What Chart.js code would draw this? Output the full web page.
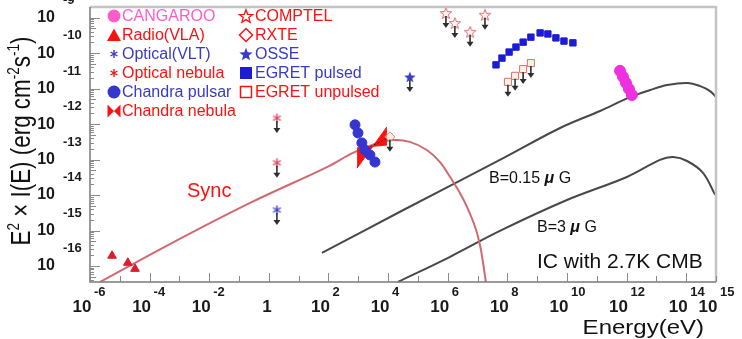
<!DOCTYPE html>
<html>
<head>
<meta charset="utf-8">
<script src="https://cdn.jsdelivr.net/npm/chart.js@4.4.1/dist/chart.umd.min.js"></script>
<style>
  html, body { margin: 0; padding: 0; background: #fff; }
  #wrap { width: 742px; height: 339px; position: relative; }
</style>
</head>
<body>
<div id="wrap"><canvas id="sed"></canvas></div>
<script>
// ── Data: [log10 E (eV), log10 E^2 I(E) (erg cm^-2 s^-1)] ─────────────
const CANGAROO       = [[11.78, -10.50], [11.88, -10.67], [11.98, -10.84], [12.08, -11.01], [12.18, -11.18]];
const RADIO_VLA      = [[-5.26, -15.71], [-4.73, -15.91], [-4.49, -16.08]];
const OPTICAL_VLT    = [[0.27, -14.42]];
const OPTICAL_NEBULA = [[0.27, -11.83], [0.27, -13.09]];
const CHANDRA_PSR    = [[2.89, -12.02], [2.99, -12.25], [3.12, -12.53], [3.22, -12.73], [3.39, -12.87], [3.56, -13.07]];
const COMPTEL        = [[5.94, -8.87], [6.24, -9.15], [6.75, -9.40], [7.25, -8.92]];
const RXTE           = [[4.06, -12.36]];
const OSSE           = [[4.73, -10.67]];
const EGRET_PULSED   = [[7.62, -10.33], [7.82, -10.14], [8.06, -9.97], [8.29, -9.83], [8.53, -9.69], [8.79, -9.55],
                        [9.10, -9.43], [9.36, -9.46], [9.63, -9.57], [9.90, -9.66], [10.20, -9.71]];
const EGRET_UNPULSED = [[8.02, -10.81], [8.26, -10.64], [8.53, -10.45], [8.79, -10.28]];

// Chandra nebula butterfly: two limiting power laws
const NEB_SHALLOW = [[2.96, -12.67], [3.96, -12.59]];
const NEB_STEEP   = [[2.96, -13.24], [3.96, -12.08]];
const NEB_FIT     = [[3.16, -12.73], [3.93, -12.42]];

// Model curves
const SYNC   = [[-5.66, -16.45], [-3.32, -15.38], [-0.63, -14.22], [1.95, -13.21], [2.82, -12.81], [3.56, -12.56],
                [4.16, -12.45], [4.73, -12.50], [5.30, -12.73], [5.74, -13.07], [6.08, -13.49], [6.41, -13.94],
                [6.65, -14.34], [6.92, -14.90], [7.08, -15.40], [7.18, -15.88], [7.28, -16.45]];
const IC_B015 = [[1.78, -15.63], [4.40, -14.47], [7.75, -13.01], [9.77, -12.11], [11.11, -11.63], [12.11, -11.24],
                 [12.79, -11.04], [13.36, -10.90], [14.03, -10.84], [14.47, -10.93], [14.80, -11.07], [15.00, -11.24]];
const IC_B3   = [[4.33, -16.45], [6.08, -15.74], [7.75, -15.01], [10.00, -14.14], [12.01, -13.49], [13.12, -13.01],
                 [13.56, -12.93], [14.03, -13.04], [14.57, -13.38], [14.97, -13.99]];

// Axes
const X_MIN_EXP = -6, X_MAX_EXP = 15;
const Y_MIN_EXP = -16.45, Y_MAX_EXP = -8.70;
const X_TICK_EXPS = [-6, -4, -2, 0, 2, 4, 6, 8, 10, 12, 14, 15];
const Y_TICK_EXPS = [-9, -10, -11, -12, -13, -14, -15, -16];

const LEGEND_LEFT = [
  ['CANGAROO', 'circlePink'], ['Radio(VLA)', 'triangle'], ['Optical(VLT)', 'asteriskBlue'],
  ['Optical nebula', 'asteriskRed'], ['Chandra pulsar', 'circleBlue'], ['Chandra nebula', 'bowtie'],
];
const LEGEND_RIGHT = [
  ['COMPTEL', 'openStar'], ['RXTE', 'openDiamond'], ['OSSE', 'star'],
  ['EGRET pulsed', 'square'], ['EGRET unpulsed', 'openSquare'],
];

// ── Colours ─────────────────────────────────────────────
const PINK = '#ff5ccb', MAGENTA = '#ee30e0', RED = '#ff1010', BLUE = '#3a3ac8';
const SQ_BLUE = '#1c1cd6', PSR_BLUE = '#3535d0', SYNC_RED = '#cf6a70', IC_GREY = '#484848';
const FONT = '"Liberation Sans", Arial, sans-serif';

const pts = arr => arr.map(([e, f]) => ({ x: 10 ** e, y: 10 ** f }));

// custom marker images
function starImage(r, fill, stroke, lw) {
  const s = Math.ceil(2 * r + 4);
  const c = document.createElement('canvas');
  c.width = c.height = s;
  const g = c.getContext('2d');
  g.translate(s / 2, s / 2 + r * 0.1);
  g.beginPath();
  for (let i = 0; i < 10; i++) {
    const rr = i % 2 ? r * 0.42 : r;
    const a = -Math.PI / 2 + i * Math.PI / 5;
    g.lineTo(rr * Math.cos(a), rr * Math.sin(a));
  }
  g.closePath();
  if (fill) { g.fillStyle = fill; g.fill(); }
  if (stroke) { g.strokeStyle = stroke; g.lineWidth = lw; g.stroke(); }
  return c;
}
function asteriskImage(r, color) {
  const s = Math.ceil(2 * r + 4);
  const c = document.createElement('canvas');
  c.width = c.height = s;
  const g = c.getContext('2d');
  g.translate(s / 2, s / 2);
  g.strokeStyle = color; g.lineWidth = 1.4;
  for (let i = 0; i < 3; i++) {
    const a = Math.PI / 2 + i * Math.PI / 3;
    g.beginPath();
    g.moveTo(-r * Math.cos(a), -r * Math.sin(a));
    g.lineTo(r * Math.cos(a), r * Math.sin(a));
    g.stroke();
  }
  return c;
}

const IMG = {
  openStarData: starImage(6, 'rgba(255,235,235,0.6)', '#d87070', 1),
  starData:     starImage(6, BLUE, null, 0),
  astBlueData:  asteriskImage(4.5, BLUE),
  astRedData:   asteriskImage(4.5, '#e04060'),
  openStarLeg:  starImage(7, null, RED, 1.3),
  starLeg:      starImage(7, BLUE, null, 0),
  astBlueLeg:   asteriskImage(4, BLUE),
  astRedLeg:    asteriskImage(4, RED),
};

function markers(data, style, color, radius, extra = {}) {
  return Object.assign({
    data: pts(data), showLine: false, pointStyle: style, pointRadius: radius,
    pointBackgroundColor: color, pointBorderColor: color, pointBorderWidth: 1,
  }, extra);
}
function curve(data, color, width, extra = {}) {
  return Object.assign({
    data: pts(data), showLine: true, borderColor: color, borderWidth: width,
    pointRadius: 0, fill: false, tension: 0.35,
  }, extra);
}

const datasets = [
  markers(CHANDRA_PSR, 'circle', PSR_BLUE, 5),
  markers(CANGAROO, 'circle', MAGENTA, 5.5),
  markers(EGRET_PULSED, 'rect', SQ_BLUE, 4.5),
  markers(EGRET_UNPULSED, 'rect', '#d87070', 5, { pointBackgroundColor: 'rgba(255,230,200,0.5)', upperLimit: true }),
  markers(COMPTEL, IMG.openStarData, '#d87070', 6, { upperLimit: true }),
  markers(RXTE, 'rectRot', '#c89070', 5, { pointBackgroundColor: 'rgba(255,220,200,0.6)', upperLimit: true }),
  markers(OSSE, IMG.starData, BLUE, 6, { upperLimit: true }),
  markers(OPTICAL_NEBULA, IMG.astRedData, '#e04060', 5, { upperLimit: true }),
  markers(OPTICAL_VLT, IMG.astBlueData, BLUE, 5, { upperLimit: true }),
  markers(RADIO_VLA, 'triangle', '#e01a30', 5),
  curve(NEB_FIT, '#222', 1, { borderDash: [2, 2], tension: 0 }),
  curve(NEB_SHALLOW, RED, 1, { tension: 0 }),
  curve(NEB_STEEP, RED, 1, { tension: 0, fill: '-1', backgroundColor: RED }),
  curve(SYNC, SYNC_RED, 2),
  curve(IC_B015, IC_GREY, 2),
  curve(IC_B3, IC_GREY, 2),
];

// ── Legend marker drawing ───────────────────────────────
function legendMarker(ctx, kind, x, y) {
  ctx.save();
  switch (kind) {
    case 'circlePink':
    case 'circleBlue':
      ctx.fillStyle = kind === 'circlePink' ? PINK : PSR_BLUE;
      ctx.beginPath(); ctx.arc(x, y, 6.5, 0, Math.PI * 2); ctx.fill();
      break;
    case 'triangle':
      ctx.fillStyle = RED;
      ctx.beginPath(); ctx.moveTo(x, y - 6.5); ctx.lineTo(x + 7, y + 6); ctx.lineTo(x - 7, y + 6); ctx.closePath(); ctx.fill();
      break;
    case 'asteriskBlue':
      ctx.drawImage(IMG.astBlueLeg, x - IMG.astBlueLeg.width / 2, y - IMG.astBlueLeg.height / 2);
      break;
    case 'asteriskRed':
      ctx.drawImage(IMG.astRedLeg, x - IMG.astRedLeg.width / 2, y - IMG.astRedLeg.height / 2);
      break;
    case 'bowtie':
      ctx.fillStyle = RED;
      ctx.beginPath();
      ctx.moveTo(x - 6.5, y - 6.5); ctx.lineTo(x + 6.5, y + 6.5); ctx.lineTo(x + 6.5, y - 6.5);
      ctx.lineTo(x - 6.5, y + 6.5); ctx.closePath(); ctx.fill();
      break;
    case 'openStar':
      ctx.drawImage(IMG.openStarLeg, x - IMG.openStarLeg.width / 2, y - IMG.openStarLeg.height / 2);
      break;
    case 'star':
      ctx.drawImage(IMG.starLeg, x - IMG.starLeg.width / 2, y - IMG.starLeg.height / 2);
      break;
    case 'openDiamond':
      ctx.strokeStyle = RED; ctx.lineWidth = 1.5;
      ctx.beginPath(); ctx.moveTo(x, y - 6.5); ctx.lineTo(x + 6.5, y); ctx.lineTo(x, y + 6.5); ctx.lineTo(x - 6.5, y); ctx.closePath(); ctx.stroke();
      break;
    case 'square':
      ctx.fillStyle = SQ_BLUE; ctx.fillRect(x - 6, y - 6, 12, 12);
      break;
    case 'openSquare':
      ctx.strokeStyle = RED; ctx.lineWidth = 1.5; ctx.strokeRect(x - 5.5, y - 5.5, 11, 11);
      break;
  }
  ctx.restore();
}

const LEGEND_TEXT_COLOR = {
  'CANGAROO': PINK, 'Radio(VLA)': RED, 'Optical(VLT)': BLUE, 'Optical nebula': RED,
  'Chandra pulsar': BLUE, 'Chandra nebula': RED, 'COMPTEL': RED, 'RXTE': RED,
  'OSSE': BLUE, 'EGRET pulsed': BLUE, 'EGRET unpulsed': RED,
};

// text pieces: [string, isSuperscript]
function drawPieces(ctx, pieces, x, y, size, supSize, raise, color, weight = '') {
  ctx.fillStyle = color;
  ctx.textAlign = 'left';
  ctx.textBaseline = 'alphabetic';
  let cx = x;
  for (const [s, sup] of pieces) {
    ctx.font = `${weight} ${sup ? supSize : size}px ${FONT}`;
    ctx.fillText(s, cx, sup ? y - raise : y);
    cx += ctx.measureText(s).width;
  }
  return cx - x;
}
function piecesWidth(ctx, pieces, size, supSize, weight = '') {
  let w = 0;
  for (const [s, sup] of pieces) {
    ctx.font = `${weight} ${sup ? supSize : size}px ${FONT}`;
    w += ctx.measureText(s).width;
  }
  return w;
}

// ── Frame, ticks, labels, legend ────────────────────────
const framePlugin = {
  id: 'frame',
  afterDraw(chart) {
    const { ctx, chartArea: a, scales: { x, y } } = chart;
    ctx.save();

    // box
    ctx.strokeStyle = '#c4c4c4'; ctx.lineWidth = 2.5;
    ctx.beginPath(); ctx.moveTo(a.left, a.top); ctx.lineTo(a.right, a.top); ctx.lineTo(a.right, a.bottom); ctx.stroke();
    ctx.strokeStyle = '#7a7a7a'; ctx.lineWidth = 1.5;
    ctx.beginPath(); ctx.moveTo(a.left, a.top); ctx.lineTo(a.left, a.bottom); ctx.lineTo(a.right, a.bottom); ctx.stroke();

    // x ticks (inside)
    ctx.strokeStyle = '#8a8a8a'; ctx.lineWidth = 1;
    for (let e = X_MIN_EXP; e <= X_MAX_EXP; e++) {
      const px = Math.round(x.getPixelForValue(10 ** e)) + 0.5;
      const len = e % 2 === 0 ? 9 : 6;
      ctx.beginPath(); ctx.moveTo(px, a.bottom); ctx.lineTo(px, a.bottom - len); ctx.stroke();
    }
    // y ticks (inside), decades + minor
    for (let e = -17; e <= -8; e++) {
      for (let m = 1; m <= 9; m++) {
        const v = m * 10 ** e;
        if (v < y.min || v > y.max) continue;
        const py = Math.round(y.getPixelForValue(v)) + 0.5;
        const len = m === 1 ? 10 : (m === 5 ? 6 : 4);
        ctx.beginPath(); ctx.moveTo(a.left, py); ctx.lineTo(a.left + len, py); ctx.stroke();
      }
    }

    // x tick labels
    ctx.fillStyle = '#1a1a1a';
    for (const e of X_TICK_EXPS) {
      const px = x.getPixelForValue(10 ** e);
      ctx.textBaseline = 'alphabetic';
      if (e === 0) {
        ctx.font = `bold 17px ${FONT}`; ctx.textAlign = 'center';
        ctx.fillText('1', px - 2, 312);
        continue;
      }
      ctx.font = `bold 17px ${FONT}`; ctx.textAlign = 'center';
      ctx.fillText('10', px - 8, 312);
      ctx.font = `bold 13px ${FONT}`; ctx.textAlign = 'left';
      ctx.fillText(String(e), px + 4, 296);
    }

    // y tick labels
    for (const e of Y_TICK_EXPS) {
      const py = y.getPixelForValue(10 ** e);
      ctx.font = `bold 16px ${FONT}`; ctx.textAlign = 'right'; ctx.textBaseline = 'middle';
      ctx.fillText('10', 55, py);
      ctx.font = `bold 13px ${FONT}`; ctx.textAlign = 'left';
      ctx.fillText(String(e), 63, py - 17.5);
    }

    // axis titles
    ctx.save();
    ctx.translate(742 - 38, 334);
    ctx.scale(1, 0.85);
    ctx.font = `24px ${FONT}`; ctx.fillStyle = '#111'; ctx.textAlign = 'right'; ctx.textBaseline = 'alphabetic';
    ctx.fillText('Energy(eV)', 0, 0);
    ctx.restore();

    const yTitle = [['E', 0], ['2', 1], [' \u00d7 I(E) (erg cm', 0], ['-2', 1], ['s', 0], ['-1', 1], [')', 0]];
    ctx.save();
    ctx.translate(30, 141);
    ctx.rotate(-Math.PI / 2);
    ctx.scale(0.8, 1);
    const tw = piecesWidth(ctx, yTitle, 28, 17);
    drawPieces(ctx, yTitle, -tw / 2, 0, 28, 17, 11, '#111');
    ctx.restore();

    // annotations
    ctx.font = `20px ${FONT}`; ctx.fillStyle = RED; ctx.textAlign = 'left'; ctx.textBaseline = 'alphabetic';
    ctx.fillText('Sync', 187, 197);
    ctx.fillStyle = '#111';
    ctx.font = `21px ${FONT}`;
    ctx.fillText('IC with 2.7K CMB', 537, 268);
    drawBLabel(ctx, 'B=0.15 ', 489, 183);
    drawBLabel(ctx, 'B=3 ', 537, 232);

    // legend
    ctx.font = `16px ${FONT}`; ctx.textBaseline = 'middle'; ctx.textAlign = 'left';
    LEGEND_LEFT.forEach(([label, kind], i) => {
      const ly = 16 + i * 19;
      legendMarker(ctx, kind, 114, ly);
      ctx.font = `16px ${FONT}`; ctx.textBaseline = 'middle'; ctx.textAlign = 'left';
      ctx.fillStyle = LEGEND_TEXT_COLOR[label];
      ctx.fillText(label, 122, ly + 1);
    });
    LEGEND_RIGHT.forEach(([label, kind], i) => {
      const ly = 16 + i * 19;
      legendMarker(ctx, kind, 246, ly);
      ctx.font = `16px ${FONT}`; ctx.textBaseline = 'middle'; ctx.textAlign = 'left';
      ctx.fillStyle = LEGEND_TEXT_COLOR[label];
      ctx.fillText(label, 255, ly + 1);
    });

    ctx.restore();
  },
};

function drawBLabel(ctx, head, x, y) {
  ctx.save();
  ctx.fillStyle = '#111'; ctx.textAlign = 'left'; ctx.textBaseline = 'alphabetic';
  ctx.font = `16px ${FONT}`;
  ctx.fillText(head, x, y);
  let cx = x + ctx.measureText(head).width;
  ctx.font = `italic bold 16px ${FONT}`;
  ctx.fillText('\u03bc', cx, y);
  cx += ctx.measureText('\u03bc').width;
  ctx.font = `16px ${FONT}`;
  ctx.fillText(' G', cx, y);
  ctx.restore();
}

// ── Upper-limit arrows below flagged markers ────────────
const arrowPlugin = {
  id: 'upperLimits',
  afterDatasetsDraw(chart) {
    const ctx = chart.ctx;
    ctx.save();
    ctx.strokeStyle = '#2e2e2e'; ctx.fillStyle = '#2e2e2e'; ctx.lineWidth = 1.6;
    chart.data.datasets.forEach((ds, i) => {
      if (!ds.upperLimit) return;
      chart.getDatasetMeta(i).data.forEach(pt => {
        const x = pt.x, y0 = pt.y + 3, y1 = pt.y + 15;
        ctx.beginPath(); ctx.moveTo(x, y0); ctx.lineTo(x, y1 - 3); ctx.stroke();
        ctx.beginPath(); ctx.moveTo(x - 3.5, y1 - 5); ctx.lineTo(x + 3.5, y1 - 5); ctx.lineTo(x, y1); ctx.closePath(); ctx.fill();
      });
    });
    ctx.restore();
  },
};

new Chart(document.getElementById('sed'), {
  type: 'line',
  data: { datasets },
  options: {
    responsive: true,
    maintainAspectRatio: false,
    animation: false,
    layout: { padding: { left: 90, top: 7, right: 26, bottom: 57 } },
    plugins: { legend: { display: false }, tooltip: { enabled: false } },
    scales: {
      x: { type: 'logarithmic', min: 10 ** X_MIN_EXP, max: 10 ** X_MAX_EXP, display: false },
      y: { type: 'logarithmic', min: 10 ** Y_MIN_EXP, max: 10 ** Y_MAX_EXP, display: false },
    },
  },
  plugins: [framePlugin, arrowPlugin],
});
</script>
</body>
</html>
